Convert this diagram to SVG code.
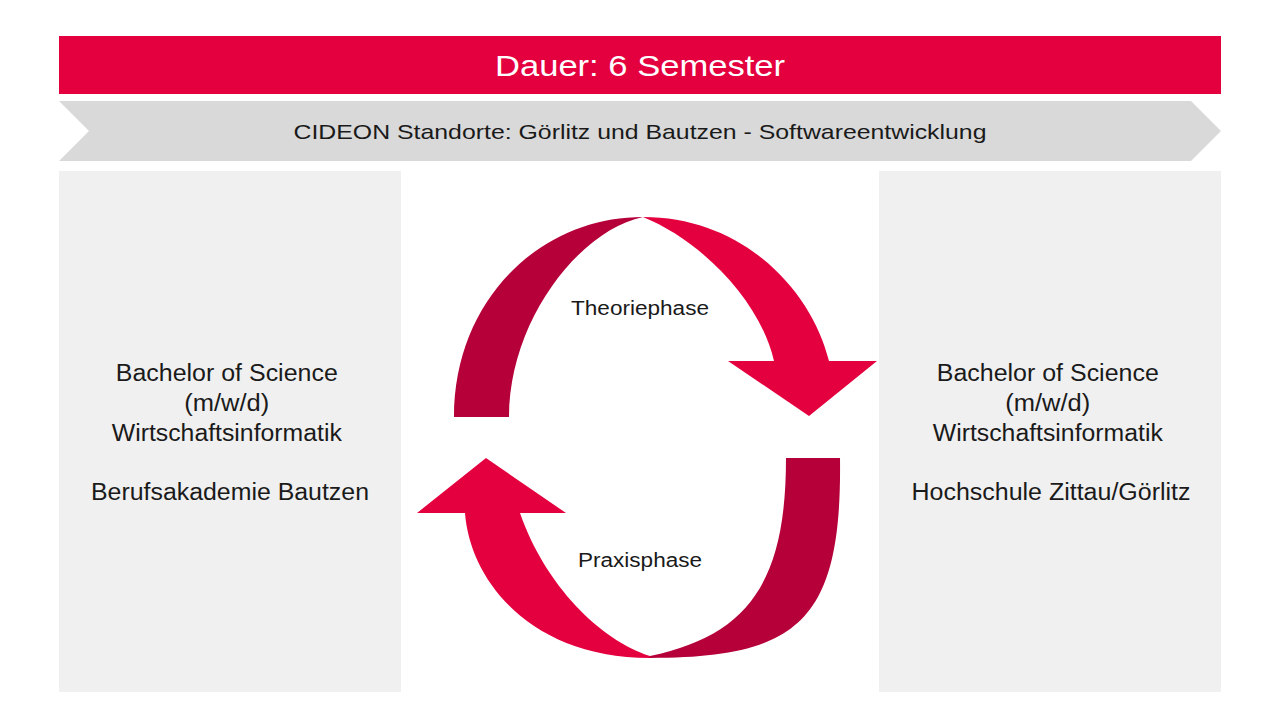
<svg xmlns="http://www.w3.org/2000/svg" width="1280" height="728" viewBox="0 0 1280 728">
<style>
.t{font-family:"Liberation Sans",Arial,sans-serif;fill:#1a1a1a;text-anchor:middle}
.red{fill:#E4003F}
.dark{fill:#B5003A}
.box{fill:#F0F0F0}
</style>
<rect width="1280" height="728" fill="#ffffff"/>
<g id="header">
<rect x="59" y="36" width="1162" height="58" class="red"/>
<text x="640" y="76" class="t" style="fill:#ffffff;font-size:30px" textLength="290" lengthAdjust="spacingAndGlyphs">Dauer: 6 Semester</text>
</g>
<g id="locations">
<polygon points="59,101 1191,101 1221,131 1191,161 59,161 89,131" fill="#D9D9D9"/>
<text x="640" y="139" class="t" style="font-size:21px" textLength="693" lengthAdjust="spacingAndGlyphs">CIDEON Standorte: Görlitz und Bautzen - Softwareentwicklung</text>
</g>
<g id="left-box">
<rect x="59" y="171" width="342" height="521" class="box"/>
<text class="t" style="font-size:23px">
<tspan x="230" y="381" textLength="222" lengthAdjust="spacingAndGlyphs">Bachelor of Science</tspan>
<tspan x="230" y="411" textLength="85" lengthAdjust="spacingAndGlyphs">(m/w/d)</tspan>
<tspan x="230" y="441" textLength="230" lengthAdjust="spacingAndGlyphs">Wirtschaftsinformatik</tspan>
<tspan x="230" y="500" textLength="278" lengthAdjust="spacingAndGlyphs">Berufsakademie Bautzen</tspan>
</text>
</g>
<g id="right-box">
<rect x="879" y="171" width="342" height="521" class="box"/>
<text class="t" style="font-size:23px">
<tspan x="1051" y="381" textLength="222" lengthAdjust="spacingAndGlyphs">Bachelor of Science</tspan>
<tspan x="1051" y="411" textLength="85" lengthAdjust="spacingAndGlyphs">(m/w/d)</tspan>
<tspan x="1051" y="441" textLength="230" lengthAdjust="spacingAndGlyphs">Wirtschaftsinformatik</tspan>
<tspan x="1051" y="500" textLength="279" lengthAdjust="spacingAndGlyphs">Hochschule Zittau/Görlitz</tspan>
</text>
</g>
<g id="connectors">
<g id="theoriephase">
<path class="dark" d="M454,417 C454,300 540,217 643,217 C580,230 509,320 509,417 Z"/>
<path class="red" d="M643,217 C745,217 812,292 829,361 L877,361 L809,416 L728,361 L774,361 C760,300 700,240 643,217 Z"/>
<text x="640" y="315" class="t" style="font-size:20px" textLength="138" lengthAdjust="spacingAndGlyphs">Theoriephase</text>
</g>
<g id="praxisphase">
<path class="dark" d="M840,458 C842,620 800,658 650,658 L650,656 C750,635 786,580 786,458 Z"/>
<path class="red" d="M650,658 C530,658 470,580 465,513 L417,513 L486,458 L566,513 L520,513 C545,585 600,640 650,656 Z"/>
<text x="640" y="567" class="t" style="font-size:20px" textLength="124" lengthAdjust="spacingAndGlyphs">Praxisphase</text>
</g>
</g>
</svg>
